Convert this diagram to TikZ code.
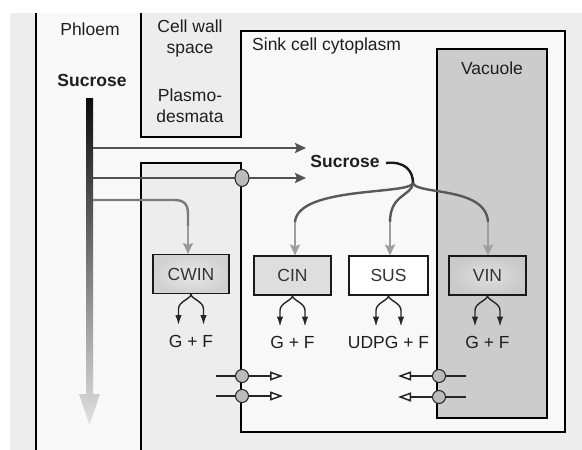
\documentclass[tikz,border=0pt]{standalone}
\usepackage{fontspec}
\setmainfont{Liberation Sans}
\usetikzlibrary{arrows.meta,shapes.geometric}
\definecolor{bgc}{HTML}{EDEDED}
\definecolor{cellc}{HTML}{F8F8F8}
\definecolor{vacc}{HTML}{CCCCCC}
\definecolor{tpc}{HTML}{BBBBBB}
\begin{document}
\begin{tikzpicture}[x=1pt,y=-1pt,
  wall/.style={line width=1.1pt,draw=black},
  lbl/.style={font=\fontsize{17.5}{21}\selectfont,text=black!88,inner sep=0pt,align=center},
  blbl/.style={lbl,font=\fontsize{17.5}{21}\selectfont\bfseries},
  enz/.style={draw=black!90,line width=1.1pt,minimum width=77pt,minimum height=39pt,inner sep=0pt,
    font=\fontsize{17.5}{21}\selectfont,text=black!80},
  fork/.style={line width=1.4pt,draw=black!85,-{Latex[length=10pt,width=6.5pt]}},
  feed/.style={line width=2.4pt,draw=black!68,-{Stealth[length=11pt,width=10pt,inset=2pt]}},
  branch/.style={line width=2.4pt,draw=black!65},
  branchtip/.style={line width=2.4pt,draw=black!38,-{Stealth[length=11pt,width=10pt,inset=2pt]}},
  tparr/.style={line width=1.5pt,draw=black!85,-{Triangle[length=13pt,width=9pt,fill=white]}},
  tp/.style={circle,draw=black!85,fill=tpc,line width=1pt,minimum size=13pt,inner sep=0pt}]
\useasboundingbox (0,0) rectangle (582,450);
% backgrounds
\fill[bgc] (10,13) rectangle (582,450);
\fill[cellc] (36,13) rectangle (141,450);
\fill[cellc] (141,137) rectangle (242,163);
\fill[cellc] (241,31) rectangle (565,432);
\filldraw[fill=vacc,wall] (437,49) rectangle (547,418);
% walls
\draw[wall] (36,13) -- (36,450);
\draw[wall] (141,13) -- (141,137) -- (241,137) -- (241,31) -- (565,31) -- (565,432) -- (241,432) -- (241,163) -- (141,163) -- (141,450);
% labels
\node[lbl] (phl) at (90,29) {Phloem};
\node[lbl] (cws) at (190,38) {Cell wall\\space};
\node[lbl] (pls) at (190,106) {Plasmo-\\desmata};
\node[lbl,anchor=west] (sink) at (252,46) {Sink cell cytoplasm};
\node[lbl] (vac) at (492,68) {Vacuole};
\node[blbl] (suc1) at (92,80) {Sucrose};
\node[blbl] (suc2) at (345,161) {Sucrose};
% phloem sucrose arrow
\shade[top color=black!95,bottom color=black!12]
  (86,98) -- (93,98) -- (93,394) -- (100,394) -- (89.5,425) -- (79,394) -- (86,394) -- cycle;
% enzymes
\node[enz,shading=radial,inner color=black!9,outer color=black!18,minimum width=76pt] (cwin) at (191,274) {CWIN};
\node[enz,fill=black!13] (cin) at (292.5,275.5) {CIN};
\node[enz,fill=white,minimum width=79pt] (sus) at (388.5,275.5) {SUS};
\node[enz,shading=radial,inner color=black!12,outer color=black!21] (vin) at (487.5,275.5) {VIN};
% feeding arrows from phloem
\coordinate (pa) at (93,148);
\coordinate (pb) at (93,178);
\coordinate (pc) at (93,200);
\coordinate (qa) at (306,148);
\coordinate (qb) at (306,178);
\coordinate (qc) at (188,226);
\draw[feed] (pa) -- (qa);
\draw[feed] (pb) -- (qb);
\draw[line width=2.4pt,draw=black!52] (pc) -- (174,200) .. controls (184,200) and (188,204) .. (188,214) -- (qc);
\draw[branchtip,draw=black!40] (qc) -- ([xshift=-3pt]cwin.north);
\node[tp,ellipse,minimum width=14pt,minimum height=17pt] (tpm) at (242,178) {};
% sucrose in cytoplasm branches
\coordinate (t0) at (386,163);
\coordinate (bp) at (413,183);
\coordinate (c1) at (295,222);
\coordinate (c2) at (390,222);
\coordinate (c3) at (488,222);
\draw[line width=2.4pt,draw=black!90] (t0) .. controls (404,161) and (413,170) .. (bp);
\draw[branch] (bp) .. controls (410,195) and (298,186) .. (c1);
\draw[branch] (bp) .. controls (412,196) and (390,194) .. (c2);
\draw[branch] (bp) .. controls (416,195) and (486,186) .. (c3);
\draw[branchtip] (c1) -- ([xshift=2.5pt]cin.north);
\draw[branchtip] (c2) -- ([xshift=1.5pt]sus.north);
\draw[branchtip] (c3) -- ([xshift=0.5pt]vin.north);
% product forks
\foreach \e/\t in {cwin/{G + F},cin/{G + F},sus/{UDPG + F},vin/{G + F}}{
  \draw[fork] (\e.south) .. controls +(0,5) and +(0,-8) .. ++(-12.5,15) -- ++(0,16);
  \draw[fork] (\e.south) .. controls +(0,5) and +(0,-8) .. ++(12.5,15) -- ++(0,16);
  \node[lbl] (\e-p) at ([yshift=-47pt]\e.south) {\t};
}
% transporters at plasma membrane
\coordinate (l1a) at (216,376); \coordinate (l1b) at (283,376);
\coordinate (l2a) at (216,396); \coordinate (l2b) at (283,396);
\coordinate (r1a) at (466,376); \coordinate (r1b) at (398,376);
\coordinate (r2a) at (466,397); \coordinate (r2b) at (398,397);
\draw[tparr] (l1a) -- (l1b);
\draw[tparr] (l2a) -- (l2b);
\draw[tparr] (r1a) -- (r1b);
\draw[tparr] (r2a) -- (r2b);
\node[tp] (tl1) at (242,376) {};
\node[tp] (tl2) at (242,396) {};
\node[tp] (tr1) at (439,376) {};
\node[tp] (tr2) at (439,397) {};
\end{tikzpicture}
\end{document}
